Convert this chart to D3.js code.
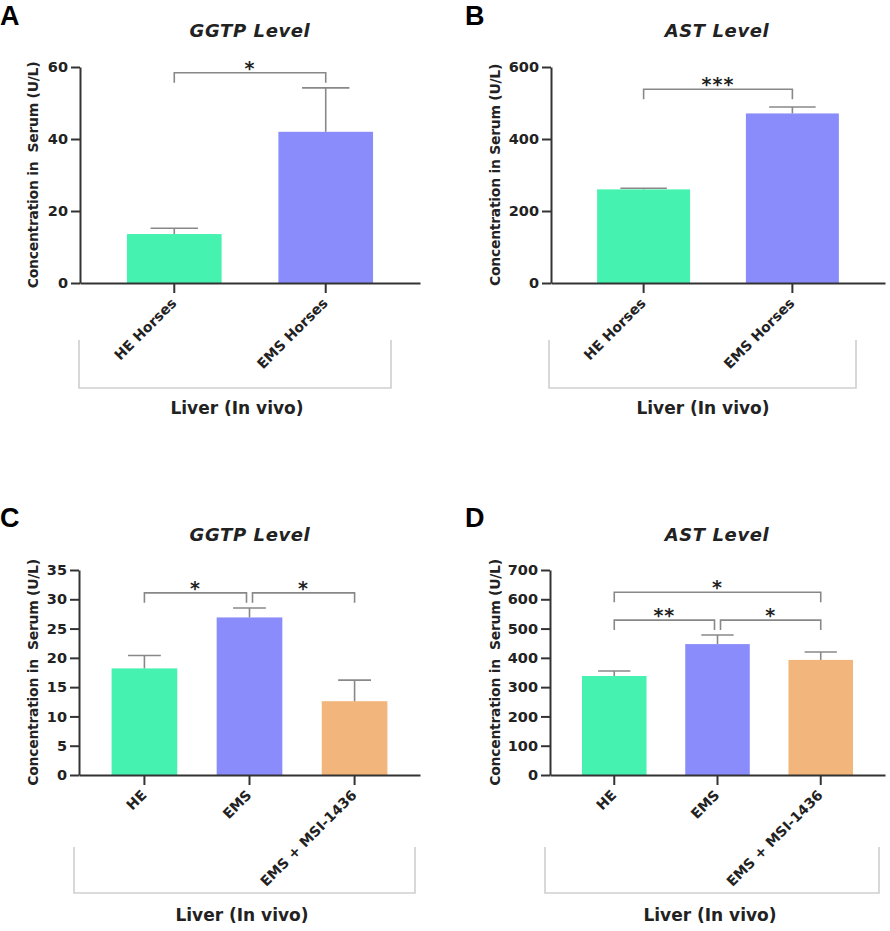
<!DOCTYPE html>
<html>
<head>
<meta charset="utf-8">
<script src="https://cdn.jsdelivr.net/npm/d3@7"></script>
<style>
    body { margin: 0; background: #fff; }
    svg text { font-family: "DejaVu Sans", sans-serif; font-weight: bold; fill: #222; }
    svg text.letter { font-family: "Liberation Sans", Arial, sans-serif; fill: #000; }
</style>
</head>
<body>
<svg id="fig" width="890" height="931"></svg>
<script>
// Data
const groupsAB = ['HE Horses', 'EMS Horses'];
const groupsCD = ['HE', 'EMS', 'EMS + MSI-1436'];

const ggtpHorses = [13.6, 42.0];
const ggtpHorsesErr = [1.6, 12.2];
const astHorses = [260, 471];
const astHorsesErr = [3, 18];

const ggtpTreat = [18.2, 26.9, 12.6];
const ggtpTreatErr = [2.2, 1.6, 3.6];
const astTreat = [338, 447, 393];
const astTreatErr = [17, 31, 27];

const ticksA = [0, 20, 40, 60];
const ticksB = [0, 200, 400, 600];
const ticksC = [0, 5, 10, 15, 20, 25, 30, 35];
const ticksD = [0, 100, 200, 300, 400, 500, 600, 700];

// significance brackets: [from, to, label, level (y units)]
const sigA = [[0, 1, '*', 58.4]];
const sigB = [[0, 1, '***', 538]];
const sigC = [[0, 1, '*', 31.1], [1, 2, '*', 31.1]];
const sigD = [[0, 2, '*', 624], [0, 1, '**', 529], [1, 2, '*', 529]];

const colors = ['#46F2AF', '#8B8CFC', '#F2B67C'];

const svg = d3.select('#fig');

function drawPanel(p) {
    const g = svg.append('g');

    const x = d3.scaleBand().domain(p.groups).range([p.left, p.right])
        .paddingInner(0.375).paddingOuter(0.31);
    const y = d3.scaleLinear().domain([0, d3.max(p.ticks)]).range([p.bottom, p.top]);

    // panel letter + title
    g.append('text').attr('class', 'letter').attr('x', p.letterX).attr('y', p.letterY)
        .style('font-size', '27px').text(p.letter);
    g.append('text').attr('x', p.titleX).attr('y', p.titleY)
        .attr('text-anchor', 'middle').style('font-size', '18px')
        .style('font-style', 'italic').style('letter-spacing', '0.6px').text(p.title);

    // bars
    g.selectAll('rect.bar').data(p.values).enter().append('rect')
        .attr('x', (d, i) => x(p.groups[i]))
        .attr('y', d => y(d))
        .attr('width', x.bandwidth())
        .attr('height', d => y(0) - y(d))
        .attr('fill', (d, i) => colors[i]);

    // error bars
    const cap = x.bandwidth() * 0.25;
    p.values.forEach((v, i) => {
        const cx = x(p.groups[i]) + x.bandwidth() / 2;
        const top = y(v + p.errors[i]);
        g.append('line').attr('x1', cx).attr('x2', cx).attr('y1', y(v)).attr('y2', top)
            .attr('stroke', '#888').attr('stroke-width', 1.6);
        g.append('line').attr('x1', cx - cap).attr('x2', cx + cap).attr('y1', top).attr('y2', top)
            .attr('stroke', '#888').attr('stroke-width', 1.6);
    });

    // y axis
    const yAxis = g.append('g').attr('transform', `translate(${p.left},0)`)
        .call(d3.axisLeft(y).tickValues(p.ticks).tickSize(9).tickSizeOuter(0).tickPadding(3));
    yAxis.attr('font-family', null);
    yAxis.selectAll('path, line').attr('stroke', '#333').attr('stroke-width', 2);
    yAxis.selectAll('text').style('font-size', '14.5px').attr('fill', '#222');

    // x axis
    const xAxis = g.append('g').attr('transform', `translate(0,${p.bottom})`)
        .call(d3.axisBottom(x).tickSize(10).tickSizeOuter(0));
    xAxis.attr('font-family', null);
    xAxis.selectAll('path, line').attr('stroke', '#333').attr('stroke-width', 2);
    xAxis.selectAll('text')
        .style('font-size', '14px').attr('fill', '#222')
        .attr('text-anchor', 'end')
        .attr('dy', null).attr('y', 0)
        .attr('transform', 'translate(3,21) rotate(-45)');

    // significance brackets
    const center = i => x(p.groups[i]) + x.bandwidth() / 2;
    p.sig.forEach(([a, b, label, level]) => {
        // inset ends that touch a neighbouring bracket on the same level
        const touches = idx => p.sig.some(s => s[3] === level && !(s[0] === a && s[1] === b) &&
            (s[0] === idx || s[1] === idx));
        const xa = center(a) + (touches(a) ? 3 : 0);
        const xb = center(b) - (touches(b) ? 3 : 0);
        const yb = y(level);
        g.append('path')
            .attr('d', `M${xa},${yb + 10}V${yb}H${xb}V${yb + 10}`)
            .attr('fill', 'none').attr('stroke', '#888').attr('stroke-width', 1.6);
        g.append('text').attr('x', (xa + xb) / 2).attr('y', yb + 2)
            .attr('text-anchor', 'middle').style('font-size', '19px')
            .style('letter-spacing', '1px').text(label);
    });

    // y label
    g.append('text')
        .attr('transform', `translate(${p.ylabelX},${(p.top + p.bottom) / 2}) rotate(-90)`)
        .attr('text-anchor', 'middle').attr('dy', '0.35em')
        .style('font-size', '14px').style('letter-spacing', '-0.3px')
        .style('white-space', 'pre').text(p.ylabel);

    // grouping box + footer
    const [bx0, bx1, by0, by1] = p.box;
    g.append('path').attr('d', `M${bx0},${by0}V${by1}H${bx1}V${by0}`)
        .attr('fill', 'none').attr('stroke', '#cfcfcf').attr('stroke-width', 1.6);
    g.append('text').attr('x', p.footX).attr('y', p.footY)
        .attr('text-anchor', 'middle').style('font-size', '17px')
        .text('Liver (In vivo)');
}

drawPanel({
    letter: 'A', letterX: 0, letterY: 25, title: 'GGTP Level', titleX: 250, titleY: 37,
    groups: groupsAB, values: ggtpHorses, errors: ggtpHorsesErr, ticks: ticksA, sig: sigA,
    left: 80, right: 420, top: 67, bottom: 283,
    ylabel: 'Concentration in  Serum (U/L)', ylabelX: 33,
    box: [79, 391, 340, 388], footX: 237, footY: 414
});

drawPanel({
    letter: 'B', letterX: 465, letterY: 25, title: 'AST Level', titleX: 717, titleY: 37,
    groups: groupsAB, values: astHorses, errors: astHorsesErr, ticks: ticksB, sig: sigB,
    left: 551, right: 885, top: 67, bottom: 283,
    ylabel: 'Concentration in Serum (U/L)', ylabelX: 495,
    box: [549, 856, 340, 388], footX: 703, footY: 414
});

drawPanel({
    letter: 'C', letterX: 0, letterY: 527, title: 'GGTP Level', titleX: 250, titleY: 541,
    groups: groupsCD, values: ggtpTreat, errors: ggtpTreatErr, ticks: ticksC, sig: sigC,
    left: 79, right: 420, top: 570, bottom: 775,
    ylabel: 'Concentration in  Serum (U/L)', ylabelX: 33,
    box: [74, 415, 847, 893], footX: 242, footY: 921
});

drawPanel({
    letter: 'D', letterX: 465, letterY: 527, title: 'AST Level', titleX: 717, titleY: 541,
    groups: groupsCD, values: astTreat, errors: astTreatErr, ticks: ticksD, sig: sigD,
    left: 550, right: 885, top: 570, bottom: 775,
    ylabel: 'Concentration in  Serum (U/L)', ylabelX: 495,
    box: [545, 879, 847, 893], footX: 710, footY: 921
});
</script>
</body>
</html>
